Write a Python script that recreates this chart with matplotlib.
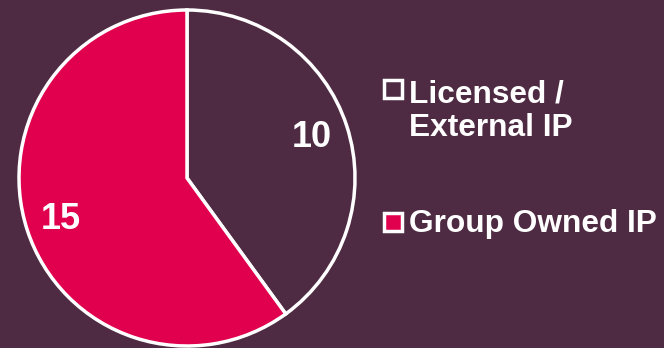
import matplotlib
matplotlib.use('Agg')
import matplotlib.pyplot as plt
from matplotlib.patches import Rectangle
import numpy as np

# IP ownership split
labels = ["Licensed /\nExternal IP", "Group Owned IP"]
values = [10, 15]

BG = '#4E2B43'
PINK = '#E0004D'
slice_colors = [BG, PINK]
label_dist = [0.78, 0.79]

plt.rcParams['font.family'] = ['Liberation Sans', 'DejaVu Sans']

W, H = 664, 348
fig = plt.figure(figsize=(W / 100, H / 100), dpi=100, facecolor=BG)

# pie centre / radius in pixels
cx, cy, r = 187, 178, 168
ax = fig.add_axes([(cx - r) / W, (H - cy - r) / H, 2 * r / W, 2 * r / H])
ax.set_facecolor(BG)

wedges, _ = ax.pie(values, colors=slice_colors, startangle=90, counterclock=False,
                   wedgeprops=dict(edgecolor='white', linewidth=2.5, clip_on=False))
ax.set_xlim(-1, 1)
ax.set_ylim(-1, 1)
ax.set_aspect('equal')
ax.axis('off')

for w, v, d in zip(wedges, values, label_dist):
    ang = np.deg2rad((w.theta1 + w.theta2) / 2)
    ax.text(d * np.cos(ang), d * np.sin(ang), str(v), ha='center', va='center',
            color='white', fontsize=26, fontweight='bold')

# legend drawn by hand: square marker + wrapped label
first_base = [99, 232]   # baseline of first text line, px from top
line_px = 37
for lab, col, yb in zip(labels, slice_colors, first_base):
    sq = 18
    fig.patches.append(Rectangle((384 / W, (H - yb + 1) / H), sq / W, sq / H,
                                 transform=fig.transFigure, facecolor=col,
                                 edgecolor='white', linewidth=2.5))
    # 'baseline' alignment anchors the last line of multi-line text
    last_base = yb + line_px * lab.count('\n')
    fig.text(409 / W, (H - last_base) / H, lab, ha='left', va='baseline', color='white',
             fontsize=22.8, fontweight='bold', linespacing=1.16)

fig.savefig('out.png', dpi=100, facecolor=BG)
